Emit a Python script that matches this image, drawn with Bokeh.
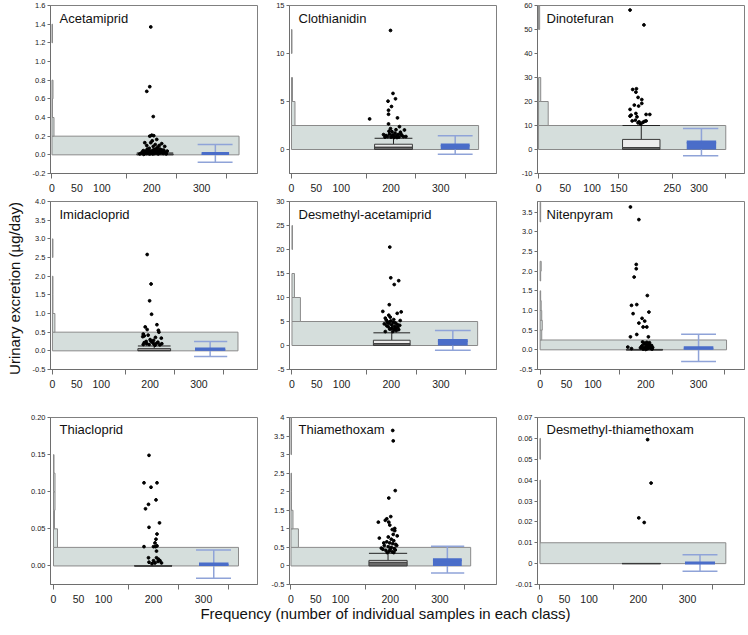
import math
from bokeh.plotting import figure
from bokeh.layouts import row, column
from bokeh.models import (Range1d, FixedTicker, NumeralTickFormatter, Label, LinearAxis,
                          CustomLabelingPolicy)
from bokeh.embed import file_html
from bokeh.resources import INLINE

FONT = "Liberation Sans"

# ---------------- data ----------------
TITLES = ["Acetamiprid", "Clothianidin", "Dinotefuran",
          "Imidacloprid", "Desmethyl-acetamiprid", "Nitenpyram",
          "Thiacloprid", "Thiamethoxam", "Desmethyl-thiamethoxam"]

X_TICK_MARKS = [0, 150, 250, 350]
X_LABEL_TICKS = [0, 50, 100, 200, 300]
X_LABEL_TICKS_DIN = [0, 50, 100, 150, 250, 300]

Y_LABEL = "Urinary excretion (\u00b5g/day)"
X_LABEL = "Frequency (number of individual samples in each class)"

# Acetamiprid
ACE_YTICKS = [-0.2, 0.0, 0.2, 0.4, 0.6, 0.8, 1.0, 1.2, 1.4, 1.6]
ACE_BIN = 0.2
ACE_COUNTS = [375, 4, 1, 2, 0, 0, 1]
ACE_BOX = [0.0, 0.003, 0.01, 0.02]          # q1, median, q3, upper whisker
ACE_MEAN, ACE_SD = 0.015, 0.095
ACE_PX = [198, 196, 190, 203, 196, 200, 204, 210, 186, 198, 220, 203, 226, 195, 212, 207, 215, 190, 201, 208, 181,
          176, 180, 184, 187, 189, 192, 194, 197, 199, 202, 204, 206, 209, 211, 213, 216, 218, 221, 223, 226, 229, 231,
          186, 191, 196, 200, 205, 210, 214, 219, 224, 228, 183, 193, 203, 217]
ACE_PY = [1.37, 0.73, 0.68, 0.41, 0.20, 0.21, 0.205, 0.165, 0.13, 0.13, 0.12, 0.09, 0.09, 0.07, 0.08, 0.11, 0.10, 0.10, 0.15, 0.06, 0.03,
          0.01, 0.02, 0.005, 0.04, 0.015, 0.03, 0.05, 0.02, 0.04, 0.01, 0.055, 0.03, 0.02, 0.045, 0.01, 0.035, 0.02, 0.05, 0.015, 0.03, 0.01, 0.04,
          0.025, 0.06, 0.01, 0.035, 0.015, 0.065, 0.04, 0.03, 0.05, 0.02, 0.045, 0.015, 0.045, 0.06]

# Clothianidin
CLO_YTICKS = [0, 5, 10, 15]
CLO_BIN = 2.5
CLO_COUNTS = [376, 7, 2, 0, 1]
CLO_BOX = [0.0, 0.25, 0.55, 1.17]
CLO_MEAN, CLO_SD = 0.47, 0.96
CLO_PX = [199, 204, 209, 194, 201, 195, 195, 213, 157, 195, 199, 217, 227, 210,
          185, 190, 193, 197, 200, 203, 206, 208, 211, 214, 216, 219, 222, 225, 202, 188, 205, 212, 196, 220, 230]
CLO_PY = [12.4, 5.84, 5.28, 5.03, 4.48, 4.09, 3.67, 3.29, 3.18, 2.66, 2.17, 2.38, 2.03, 2.06,
          1.55, 1.45, 1.35, 1.6, 1.3, 1.5, 1.25, 1.7, 1.4, 1.55, 1.3, 1.8, 1.45, 1.35, 1.85, 1.3, 1.4, 1.25, 1.9, 1.6, 1.35]

# Dinotefuran
DIN_YTICKS = [-10, 0, 10, 20, 30, 40, 50, 60]
DIN_BIN = 10
DIN_COUNTS = [350, 18, 4, 0, 0, 2]
DIN_BOX = [0.0, 0.8, 4.2, 10.0]
DIN_MEAN, DIN_SD = 3.1, 5.7
DIN_PX = [171, 197, 176, 183, 182, 186, 193, 193, 179, 187, 171, 182, 173, 171, 201, 208, 184, 175, 181, 188, 198, 201, 191, 186, 195]
DIN_PY = [58.1, 51.9, 25.0, 25.3, 23.9, 21.7, 20.8, 19.2, 18.5, 18.1, 16.7, 15.0, 14.3, 13.9, 14.6, 14.6, 13.6, 11.9, 12.2, 11.5, 11.7, 11.9, 10.6, 11.1, 11.3]

# Imidacloprid
IMI_YTICKS = [-0.5, 0.0, 0.5, 1.0, 1.5, 2.0, 2.5, 3.0, 3.5, 4.0]
IMI_BIN = 0.5
IMI_COUNTS = [380, 5, 1, 1, 0, 1]
IMI_BOX = [0.0, 0.02, 0.06, 0.13]
IMI_MEAN, IMI_SD = 0.05, 0.2
IMI_PX = [194, 202, 199, 203, 214, 190, 194, 217, 218, 186, 185, 223, 211, 192, 188, 196, 200, 205, 208, 213, 188, 198, 202, 216, 220, 193, 207, 210, 186, 224]
IMI_PY = [2.58, 1.79, 1.34, 0.98, 0.70, 0.64, 0.57, 0.55, 0.50, 0.45, 0.38, 0.34, 0.36, 0.25, 0.40, 0.42, 0.30, 0.22, 0.18, 0.20, 0.22, 0.17, 0.26, 0.23, 0.16, 0.19, 0.28, 0.15, 0.17, 0.19]

# Desmethyl-acetamiprid
DMA_YTICKS = [-5, 0, 5, 10, 15, 20, 25, 30]
DMA_BIN = 5
DMA_COUNTS = [374, 17, 5, 0, 1]
DMA_BOX = [0.0, 0.4, 1.1, 2.64]
DMA_MEAN, DMA_SD = 1.05, 2.05
DMA_PX = [197, 199, 215, 206, 196, 220, 183, 212, 195, 188, 198, 218, 188,
          190, 193, 196, 199, 201, 204, 207, 209, 212, 215, 194, 202, 205, 210, 186, 191, 200, 208, 213, 217, 197, 203, 192, 206]
DMA_PY = [20.5, 14.1, 13.5, 12.7, 8.5, 7.0, 7.1, 6.7, 6.3, 5.7, 5.9, 5.2, 2.9,
          5.3, 4.9, 4.6, 5.1, 4.3, 4.8, 4.0, 3.6, 4.4, 3.3, 3.9, 3.7, 5.4, 3.1, 4.5, 4.1, 3.5, 4.7, 3.8, 4.2, 3.4, 2.9, 4.8, 3.3]

# Nitenpyram
NIT_YTICKS = [-0.5, 0.0, 0.5, 1.0, 1.5, 2.0, 2.5, 3.0, 3.5]
NIT_BIN = 0.25
NIT_COUNTS = [353, 3, 4, 3, 2, 1, 0, 1, 2, 0, 0, 0, 0, 1, 1]
NIT_BOX = [0.0, 0.0, 0.005, 0.01]
NIT_MEAN, NIT_SD = 0.05, 0.345
NIT_PX = [171, 187, 182, 182, 178, 203, 173, 183, 206, 176, 187, 193, 198, 195, 202, 183, 171, 205, 166, 173,
          190, 193, 195, 197, 199, 201, 203, 205, 207, 209, 211, 194, 200, 206, 212, 192, 198, 204, 208, 213, 196, 202]
NIT_PY = [3.63, 3.31, 2.17, 2.06, 1.85, 1.38, 1.13, 1.15, 0.96, 0.92, 0.68, 0.80, 0.73, 0.58, 0.58, 0.39, 0.33, 0.33, 0.07, 0.03,
          0.05, 0.1, 0.02, 0.15, 0.06, 0.12, 0.03, 0.08, 0.18, 0.04, 0.11, 0.2, 0.01, 0.14, 0.02, 0.08, 0.17, 0.05, 0.09, 0.06, 0.04, 0.19]

# Thiacloprid
THC_YTICKS = [0.0, 0.05, 0.10, 0.15, 0.20]
THC_BIN = 0.025
THC_COUNTS = [370, 8, 2, 3, 3, 1]
THC_BOX = [0.0, 0.0, 0.0003, 0.0005]
THC_MEAN, THC_SD = 0.0025, 0.019
THC_PX = [191, 181, 207, 195, 205, 190, 184, 212, 191, 207, 205, 203, 181, 200, 204, 207, 206, 190, 206, 191, 200, 210, 213, 216, 197, 209, 203]
THC_PY = [0.149, 0.112, 0.112, 0.106, 0.089, 0.083, 0.077, 0.058, 0.052, 0.043, 0.036, 0.031, 0.026, 0.026, 0.026, 0.027, 0.020, 0.011, 0.011, 0.005, 0.007, 0.009, 0.007, 0.004, 0.003, 0.006, 0.004]

# Thiamethoxam
THX_YTICKS = [-0.5, 0.0, 0.5, 1.0, 1.5, 2.0, 2.5, 3.0, 3.5, 4.0]
THX_BIN = 0.5
THX_COUNTS = [362, 15, 4, 1, 1, 0, 1, 1]
THX_BOX = [0.0, 0.1, 0.15, 0.34]
THX_MEAN, THX_SD = 0.17, 0.36
THX_PX = [205, 206, 210, 197, 201, 176, 193, 197, 209, 209, 206, 214, 178, 190, 199, 204, 196, 202, 207, 193, 199, 205, 211,
          188, 196, 202, 208, 185, 191, 198, 204, 210, 194, 200, 213, 187, 207, 182]
THX_PY = [3.65, 3.37, 2.03, 1.83, 1.33, 1.18, 1.27, 1.18, 1.01, 0.95, 0.85, 0.81, 0.75, 1.23, 1.1, 0.98, 0.78, 0.72, 0.68, 0.65, 0.62, 0.6, 0.58,
          0.55, 0.52, 0.5, 0.47, 0.45, 0.42, 0.4, 0.38, 0.43, 0.36, 0.45, 0.55, 0.62, 0.36, 0.48]

# Desmethyl-thiamethoxam
DTX_YTICKS = [-0.01, 0.0, 0.01, 0.02, 0.03, 0.04, 0.05, 0.06, 0.07]
DTX_BIN = 0.01
DTX_COUNTS = [378, 1, 1, 1, 0, 1]
DTX_BOX = [0.0, 0.0, 0.00005, 0.0001]
DTX_MEAN, DTX_SD = 0.0003, 0.004
DTX_PX = [219, 226, 201, 212]
DTX_PY = [0.0594, 0.0386, 0.0219, 0.0197]

# ---------------- layout (positions/styles) ----------------
PANELS = [
    dict(title=TITLES[0], yr=(-0.2, 1.6), yt=ACE_YTICKS, fmt="0.0", xr=(-3, 412), xl=X_LABEL_TICKS, bw=ACE_BIN, counts=ACE_COUNTS,
         box=ACE_BOX, mean=ACE_MEAN, sd=ACE_SD, px=ACE_PX, py=ACE_PY, bx=(170, 243), mx=(300, 355), cx=(292, 362)),
    dict(title=TITLES[1], yr=(-2.5, 15), yt=CLO_YTICKS, fmt="0", xr=(-4, 412), xl=X_LABEL_TICKS, bw=CLO_BIN, counts=CLO_COUNTS,
         box=CLO_BOX, mean=CLO_MEAN, sd=CLO_SD, px=CLO_PX, py=CLO_PY, bx=(167, 243), mx=(300, 358), cx=(294, 364)),
    dict(title=TITLES[2], yr=(-10, 60), yt=DIN_YTICKS, fmt="0", xr=(-2, 385), xl=X_LABEL_TICKS_DIN, bw=DIN_BIN, counts=DIN_COUNTS,
         box=DIN_BOX, mean=DIN_MEAN, sd=DIN_SD, px=DIN_PX, py=DIN_PY, bx=(157, 227), mx=(277, 332), cx=(270, 336)),
    dict(title=TITLES[3], yr=(-0.5, 4.0), yt=IMI_YTICKS, fmt="0.0", xr=(-4, 420), xl=X_LABEL_TICKS, bw=IMI_BIN, counts=IMI_COUNTS,
         box=IMI_BOX, mean=IMI_MEAN, sd=IMI_SD, px=IMI_PX, py=IMI_PY, bx=(175, 242), mx=(292, 354), cx=(290, 358)),
    dict(title=TITLES[4], yr=(-5, 30), yt=DMA_YTICKS, fmt="0", xr=(-5, 412), xl=X_LABEL_TICKS, bw=DMA_BIN, counts=DMA_COUNTS,
         box=DMA_BOX, mean=DMA_MEAN, sd=DMA_SD, px=DMA_PX, py=DMA_PY, bx=(164, 238), mx=(294, 354), cx=(288, 360)),
    dict(title=TITLES[5], yr=(-0.5, 3.77), yt=NIT_YTICKS, fmt="0.0", xr=(-5, 387), xl=X_LABEL_TICKS, bw=NIT_BIN, counts=NIT_COUNTS,
         box=NIT_BOX, mean=NIT_MEAN, sd=NIT_SD, px=NIT_PX, py=NIT_PY, bx=(163, 232), mx=(272, 328), cx=(267, 333)),
    dict(title=TITLES[6], yr=(-0.025, 0.2), yt=THC_YTICKS, fmt="0.00", xr=(-6, 408), xl=X_LABEL_TICKS, bw=THC_BIN, counts=THC_COUNTS,
         box=THC_BOX, mean=THC_MEAN, sd=THC_SD, px=THC_PX, py=THC_PY, bx=(162, 237), mx=(291, 350), cx=(285, 355)),
    dict(title=TITLES[7], yr=(-0.5, 4.0), yt=THX_YTICKS, fmt="0.[0]", xr=(-3, 414), xl=X_LABEL_TICKS, bw=THX_BIN, counts=THX_COUNTS,
         box=THX_BOX, mean=THX_MEAN, sd=THX_SD, px=THX_PX, py=THX_PY, bx=(157, 234), mx=(286, 344), cx=(282, 349)),
    dict(title=TITLES[8], yr=(-0.01, 0.07), yt=DTX_YTICKS, fmt="0.[00]", xr=(-5, 416), xl=X_LABEL_TICKS, bw=DTX_BIN, counts=DTX_COUNTS,
         box=DTX_BOX, mean=DTX_MEAN, sd=DTX_SD, px=DTX_PX, py=DTX_PY, bx=(167, 245), mx=(295, 356), cx=(290, 361)),
]

YLAB_W = 24
FW, FH = 207, 168
BLS = [26, 28, 37]
BRS = [4, 4, 2]
BTS = [5, 4, 24]
BBS = [24, 24, 20]
XLAB_H = 24

HIST_FILL = "#d5dedc"
HIST_LINE = "#8a8a8a"
AXIS_COL = "#6e6e6e"
BLUE = "#4a6dc9"
BLUE_LIGHT = "#8fa3d8"

HIDE_LABELS = "for (const i of indices) { indices.unset(i) }\nreturn indices"


def make_panel(i, s):
    c, r = i % 3, i // 3
    BL, BR, BT, BB = BLS[c], BRS[c], BTS[r], BBS[r]
    p = figure(width=BL + FW + BR, height=BT + FH + BB,
               x_range=Range1d(*s["xr"]), y_range=Range1d(*s["yr"]),
               output_backend="svg", toolbar_location=None,
               min_border_left=BL, min_border_right=BR, min_border_top=BT, min_border_bottom=BB)
    p.xgrid.visible = False
    p.ygrid.visible = False
    p.outline_line_color = "#808080"
    p.outline_line_width = 1

    # histogram (horizontal bars from 0)
    lo = [k * s["bw"] for k, n in enumerate(s["counts"]) if n > 0]
    cnt = [n for n in s["counts"] if n > 0]
    hi = [v + s["bw"] for v in lo]
    p.quad(left=[0] * len(cnt), right=cnt, bottom=lo, top=hi,
           fill_color=HIST_FILL, line_color=HIST_LINE, line_width=1)

    # box plot
    q1, med, q3, wh = s["box"]
    bx0, bx1 = s["bx"]
    bc = (bx0 + bx1) / 2
    p.segment(x0=[bc], y0=[q3], x1=[bc], y1=[wh], line_color="#222222", line_width=1)
    p.segment(x0=[bx0], y0=[wh], x1=[bx1], y1=[wh], line_color="#222222", line_width=1)
    p.quad(left=[bx0], right=[bx1], bottom=[q1], top=[med], fill_color="#6a6a6a",
           line_color="#3a3a3a", line_width=1)
    p.quad(left=[bx0], right=[bx1], bottom=[med], top=[q3], fill_color="#ececec",
           line_color="#3a3a3a", line_width=1)

    # mean +/- SD
    mx0, mx1 = s["mx"]
    cx0, cx1 = s["cx"]
    mc = (mx0 + mx1) / 2
    m, sd = s["mean"], s["sd"]
    p.segment(x0=[mc], y0=[m - sd], x1=[mc], y1=[m + sd], line_color=BLUE_LIGHT, line_width=1.5)
    p.segment(x0=[cx0, cx0], y0=[m - sd, m + sd], x1=[cx1, cx1], y1=[m - sd, m + sd],
              line_color=BLUE_LIGHT, line_width=1.5)
    p.quad(left=[mx0], right=[mx1], bottom=[0], top=[m], fill_color=BLUE, line_color=None)
    p.segment(x0=[mx0], y0=[m], x1=[mx1], y1=[m], line_color=BLUE, line_width=3)

    # outlier points
    p.scatter(x=s["px"], y=s["py"], size=2.8, color="black")

    # x axis: tick marks only on the primary axis (labels not painted), labels on a second one
    xa = p.xaxis[0]
    xa.ticker = FixedTicker(ticks=X_TICK_MARKS)
    xa.major_label_policy = CustomLabelingPolicy(code=HIDE_LABELS)
    xa.major_label_text_font_size = "1px"
    xa.major_label_standoff = 0
    xa.major_tick_out = 5
    lab_ax = LinearAxis(ticker=FixedTicker(ticks=s["xl"]), axis_line_color=None,
                        major_tick_line_color=None, minor_tick_line_color=None,
                        major_tick_out=0, major_tick_in=0, major_label_standoff=1,
                        major_label_text_font=FONT, major_label_text_font_size="10.5px",
                        major_label_text_color="#222222")
    p.add_layout(lab_ax, "below")

    ya = p.yaxis[0]
    ya.ticker = FixedTicker(ticks=s["yt"])
    ya.formatter = NumeralTickFormatter(format=s["fmt"])
    for ax in (xa, ya):
        ax.axis_line_color = AXIS_COL
        ax.major_tick_line_color = AXIS_COL
        ax.minor_tick_line_color = None
        ax.major_tick_in = 0
        ax.major_label_text_font = FONT
        ax.major_label_text_color = "#222222"
    ya.major_tick_out = 3
    ya.major_label_standoff = 2
    ya.major_label_text_font_size = "7.5px"

    x0, x1 = s["xr"]
    y0, y1 = s["yr"]
    p.add_layout(Label(x=x0 + 9.0 / FW * (x1 - x0), y=y1 - 5.0 / FH * (y1 - y0), text=s["title"],
                       text_font=FONT, text_font_size="13px", text_color="#111111",
                       text_align="left", text_baseline="top"))
    return p


figs = [make_panel(i, s) for i, s in enumerate(PANELS)]
grid = column(row(*figs[0:3]), row(*figs[3:6]), row(*figs[6:9]))

GRID_H = sum(BT + FH + BB for BT, BB in zip(BTS, BBS))
ylab = figure(width=YLAB_W, height=GRID_H, x_range=Range1d(0, 1), y_range=Range1d(0, 1),
              x_axis_type=None, y_axis_type=None, min_border=0, outline_line_color=None,
              toolbar_location=None, output_backend="svg")
ylab.add_layout(Label(x=14.0 / YLAB_W, y=1 - 288.0 / GRID_H, text=Y_LABEL, angle=math.pi / 2,
                      text_align="center", text_baseline="middle", text_font=FONT,
                      text_font_size="15px", text_color="#111111"))

TOTAL_W = YLAB_W + sum(BLS) + 3 * FW + sum(BRS)
xlab = figure(width=TOTAL_W, height=XLAB_H, x_range=Range1d(0, 1), y_range=Range1d(0, 1),
              x_axis_type=None, y_axis_type=None, min_border=0, outline_line_color=None,
              toolbar_location=None, output_backend="svg")
xlab.add_layout(Label(x=385.0 / TOTAL_W, y=1 - 8.0 / XLAB_H, text=X_LABEL, text_align="center",
                      text_baseline="middle", text_font=FONT, text_font_size="15px",
                      text_color="#111111"))

page = column(row(ylab, grid), xlab)
open("out.html", "w").write(file_html(page, INLINE))
